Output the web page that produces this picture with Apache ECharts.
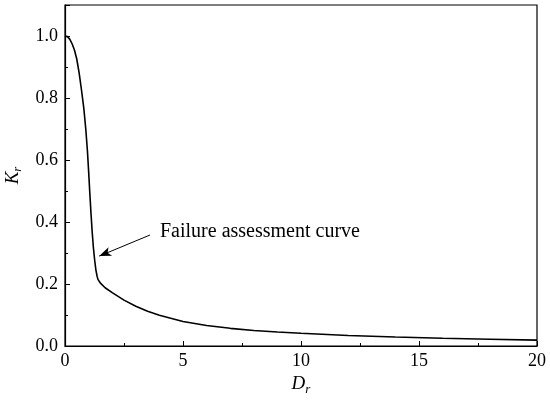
<!DOCTYPE html>
<html>
<head>
<meta charset="utf-8">
<script src="https://cdn.jsdelivr.net/npm/echarts@6/dist/echarts.min.js"></script>
<style>
    html, body { margin: 0; padding: 0; background: #fff; }
    #plot { width: 550px; height: 401px; }
</style>
</head>
<body>
<div id="plot"></div>
<script>
    // curve (Dr, Kr)
    const dr = [0, 0.1, 0.2, 0.3, 0.4, 0.5, 0.6, 0.7, 0.8, 0.88, 0.95, 1.0, 1.05, 1.1, 1.15, 1.2, 1.26, 1.31, 1.36, 1.4,
                1.5, 1.7, 2.0, 2.5, 3.0, 3.5, 4.0, 5.0, 6.0, 7.0, 8.0, 9.0, 10, 12, 14, 16, 18, 20]
    const kr = [1.0, 0.998, 0.99, 0.975, 0.955, 0.925, 0.88, 0.825, 0.765, 0.70, 0.63, 0.565, 0.495, 0.43, 0.37, 0.32, 0.275, 0.245, 0.225, 0.214,
                0.203, 0.188, 0.172, 0.148, 0.128, 0.112, 0.099, 0.079, 0.066, 0.057, 0.050, 0.045, 0.041, 0.034, 0.029, 0.025, 0.022, 0.019]

    // arrow annotation: from label to curve
    const arrowFrom = [3.6, 0.358]
    const arrowTo = [1.45, 0.29]
    const noteText = "Failure assessment curve"

    const font = "Liberation Serif"
    const chart = echarts.init(document.getElementById("plot"))

    let option = {
        animation: false,
        grid: {
            left: 65, right: 13, top: 5, bottom: 55,
            outerBoundsMode: "none",
            containLabel: false,
            show: true,
            borderColor: "#000",
            borderWidth: 1.2
        },
        xAxis: {
            type: "value",
            min: 0, max: 20, interval: 5,
            name: "{i|D}{s|r}",
            nameLocation: "middle",
            nameGap: 26,
            nameTextStyle: {
                rich: {
                    i: { fontFamily: font, fontSize: 19, fontStyle: "italic", color: "#000" },
                    s: { fontFamily: font, fontSize: 13, fontStyle: "italic", color: "#000", padding: [10, 0, 0, 0] }
                }
            },
            axisLine: { show: true, onZero: false, lineStyle: { color: "#000", width: 1.2 } },
            axisTick: { show: true, inside: true, length: 5, lineStyle: { color: "#000" } },
            minorTick: { show: true, splitNumber: 2, length: 3, lineStyle: { color: "#000" } },
            splitLine: { show: false },
            axisLabel: { fontFamily: font, fontSize: 18, color: "#000", margin: 6 }
        },
        yAxis: {
            type: "value",
            min: 0, max: 1.1, interval: 0.2,
            name: "{i|K}{s|r}",
            nameLocation: "middle",
            nameGap: 41,
            nameTextStyle: {
                rich: {
                    i: { fontFamily: font, fontSize: 19, fontStyle: "italic", color: "#000" },
                    s: { fontFamily: font, fontSize: 13, fontStyle: "italic", color: "#000", padding: [10, 0, 0, 0] }
                }
            },
            axisLine: { show: true, onZero: false, lineStyle: { color: "#000", width: 1.2 } },
            axisTick: { show: true, inside: true, length: 5, lineStyle: { color: "#000" } },
            minorTick: { show: true, splitNumber: 2, length: 3, lineStyle: { color: "#000" } },
            splitLine: { show: false },
            axisLabel: {
                fontFamily: font, fontSize: 18, color: "#000", margin: 7,
                formatter: v => (Math.abs(v * 5 - Math.round(v * 5)) < 1e-6 ? v.toFixed(1) : "")
            }
        },
        series: [{
            type: "line",
            data: dr.map((d, i) => [d, kr[i]]),
            showSymbol: false,
            smooth: false,
            lineStyle: { color: "#000", width: 1.6 },
            markLine: {
                silent: true,
                symbol: ["none", "arrow"],
                symbolSize: [7, 12],
                label: { show: false },
                lineStyle: { color: "#000", width: 1, type: "solid" },
                data: [[{ coord: arrowFrom }, { coord: arrowTo }]]
            }
        }],
        graphic: [{
            type: "text",
            left: 160,
            top: 222,
            style: { text: noteText, font: "20px '" + font + "'", fill: "#000" }
        }]
    }
    chart.setOption(option)
</script>
</body>
</html>
